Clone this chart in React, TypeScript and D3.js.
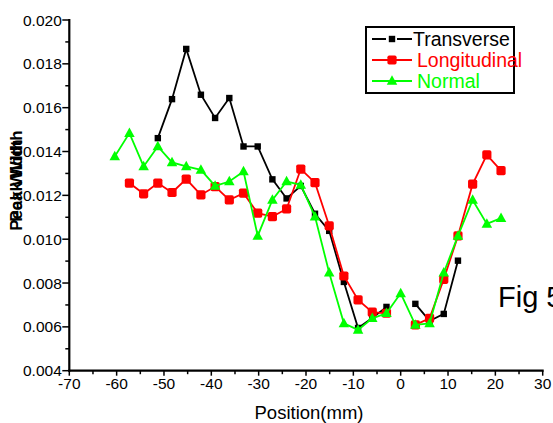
import React from "react";
import * as d3 from "d3";

const positions = [-60.4, -57.3, -54.3, -51.3, -48.3, -45.3, -42.2, -39.2, -36.2, -33.2, -30.2, -27.1, -24.1, -21.1, -18.1, -15.1, -12.0, -9.0, -6.0, -3.0, 0.0, 3.1, 6.1, 9.1, 12.1, 15.2, 18.2, 21.2];

const transverse: (number | null)[] = [null, null, null, 0.01461, 0.01639, 0.01868, 0.01659, 0.01553, 0.01644, 0.01423, 0.01423, 0.01273, 0.01186, 0.01243, 0.01116, 0.01038, 0.00805, 0.00595, 0.00641, 0.00691, null, 0.00705, 0.00627, 0.00659, 0.00902, null, null, null];

const longitudinal: (number | null)[] = [null, 0.01256, 0.01207, 0.01256, 0.01213, 0.01274, 0.01202, 0.0124, 0.01179, 0.0121, 0.01119, 0.01103, 0.01138, 0.0132, 0.01258, 0.01061, 0.00832, 0.00723, 0.00667, 0.00662, null, 0.00609, 0.00639, 0.00817, 0.01015, 0.01251, 0.01385, 0.01313];

const normal: (number | null)[] = [0.01377, 0.01484, 0.01332, 0.01423, 0.0135, 0.01332, 0.01316, 0.01243, 0.01263, 0.01309, 0.01015, 0.01179, 0.01263, 0.01248, 0.01103, 0.00847, 0.00616, 0.00586, 0.00639, 0.00662, 0.00753, 0.00609, 0.00616, 0.00847, 0.01015, 0.01179, 0.0107, 0.01096];

const xTicks = [-70, -60, -50, -40, -30, -20, -10, 0, 10, 20, 30];
const yTicks = [0.004, 0.006, 0.008, 0.01, 0.012, 0.014, 0.016, 0.018, 0.02];

const seriesNames = ["Transverse", "Longitudinal", "Normal"];
const seriesColors = ["#000000", "#ff0000", "#00ff00"];

const FONT = "'Liberation Sans', Arial, sans-serif";

type Pt = { x: number; y: number | null };

function Marker({ kind, cx, cy, color }: { kind: number; cx: number; cy: number; color: string }) {
  if (kind === 0) {
    return <rect x={cx - 3.2} y={cy - 3.2} width={6.4} height={6.4} fill={color} />;
  }
  if (kind === 1) {
    return <rect x={cx - 4.6} y={cy - 4.6} width={9.2} height={9.2} rx={1.8} fill={color} />;
  }
  const h = 9.5;
  const w = 10.5;
  return (
    <path
      d={`M${cx},${cy - h * 0.6} L${cx + w / 2},${cy + h * 0.4} L${cx - w / 2},${cy + h * 0.4} Z`}
      fill={color}
    />
  );
}

export default function App() {
  const x = d3.scaleLinear().domain([-70, 30]).range([69.3, 542.7]);
  const y = d3.scaleLinear().domain([0.004, 0.02]).range([370.7, 20]);

  const all = [transverse, longitudinal, normal].map((s) =>
    s.map((v, i) => ({ x: positions[i], y: v } as Pt))
  );

  const line = d3
    .line<Pt>()
    .defined((d) => d.y !== null)
    .x((d) => x(d.x))
    .y((d) => y(d.y as number));

  const xMinor = d3.range(-65, 30, 10);
  const yMinor = d3.range(0.005, 0.02, 0.002);

  return (
    <svg
      width={553}
      height={423}
      style={{ position: "absolute", left: 0, top: 0, background: "#fff" }}
      fontFamily={FONT}
    >
      <rect x={0} y={0} width={553} height={423} fill="#fff" />

      {all.map((pts, k) => (
        <g key={k}>
          <path d={line(pts) || ""} fill="none" stroke={seriesColors[k]} strokeWidth={1.8} />
          {pts
            .filter((p) => p.y !== null)
            .map((p, i) => (
              <Marker key={i} kind={k} cx={x(p.x)} cy={y(p.y as number)} color={seriesColors[k]} />
            ))}
        </g>
      ))}

      <line x1={x(-70)} x2={x(-70)} y1={y(0.02) - 1} y2={y(0.004) + 1} stroke="#000" strokeWidth={2.2} />
      <line x1={x(-70) - 1} x2={x(30) + 1} y1={y(0.004)} y2={y(0.004)} stroke="#000" strokeWidth={2.2} />

      {yTicks.map((t) => (
        <g key={t}>
          <line x1={x(-70) - 7} x2={x(-70)} y1={y(t)} y2={y(t)} stroke="#000" strokeWidth={1.5} />
          <text x={x(-70) - 7.5} y={y(t) + 5.5} textAnchor="end" fontSize={15.5} fill="#000">
            {d3.format(".3f")(t)}
          </text>
        </g>
      ))}
      {yMinor.map((t) => (
        <line key={t} x1={x(-70) - 4} x2={x(-70)} y1={y(t)} y2={y(t)} stroke="#000" strokeWidth={1.5} />
      ))}

      {xTicks.map((t) => (
        <g key={t}>
          <line x1={x(t)} x2={x(t)} y1={y(0.004)} y2={y(0.004) + 5} stroke="#000" strokeWidth={1.5} />
          <text x={x(t)} y={389} textAnchor="middle" fontSize={15.5} fill="#000">
            {t}
          </text>
        </g>
      ))}
      {xMinor.map((t) => (
        <line key={t} x1={x(t)} x2={x(t)} y1={y(0.004)} y2={y(0.004) + 3.5} stroke="#000" strokeWidth={1.5} />
      ))}

      <text x={309} y={419} textAnchor="middle" fontSize={18.5} fill="#000">
        Position(mm)
      </text>
      <text transform="translate(22,176) rotate(-90)" textAnchor="middle" fontSize={17} fontWeight="bold" fill="#000">
        Peak Width
      </text>
      <text transform="translate(22,185) rotate(-90)" textAnchor="middle" fontSize={17} fontWeight="bold" fill="#000">
        Peak Width
      </text>

      <rect x={366} y={27} width={148} height={66} fill="#fff" stroke="#000" strokeWidth={2} />
      {seriesNames.map((n, k) => {
        const cy = 39 + k * 21;
        return (
          <g key={n}>
            <line x1={372} x2={412} y1={cy} y2={cy} stroke={seriesColors[k]} strokeWidth={1.8} />
            {k === 0 && <rect x={386} y={cy - 2} width={11} height={4} fill="#fff" />}
            <Marker kind={k} cx={392} cy={cy} color={seriesColors[k]} />
            <text x={k === 0 ? 413 : 417} y={cy + 7} fontSize={19.5} fill={seriesColors[k]}>
              {n}
            </text>
          </g>
        );
      })}

      <text x={498} y={307} fontSize={29} fill="#000">
        Fig 5
      </text>
    </svg>
  );
}
